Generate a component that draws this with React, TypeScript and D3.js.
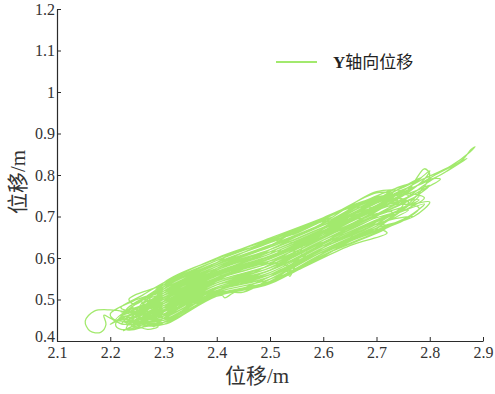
import { useEffect, useRef } from 'react'
import * as d3 from 'd3'

const xTicks = [2.1, 2.2, 2.3, 2.4, 2.5, 2.6, 2.7, 2.8, 2.9]
const yTicks = [0.4, 0.5, 0.6, 0.7, 0.8, 0.9, 1, 1.1, 1.2]
const axisTitle = '位移/m'
const legendLabel = '轴向位移'
const legendAxis = 'Y'

// trajectory (x, y displacement in m)
const trajectory: [number, number][] = [
  [2.23, 0.47], [2.2, 0.475], [2.17, 0.472], [2.153, 0.448], [2.162, 0.424], [2.182, 0.421], [2.192, 0.44], [2.188, 0.462], [2.2, 0.455], [2.23, 0.44],
  [2.3, 0.504], [2.4, 0.558], [2.5, 0.603], [2.6, 0.661], [2.67, 0.695], [2.6, 0.634], [2.5, 0.571], [2.4, 0.535], [2.3, 0.47], [2.24, 0.445],
  [2.3, 0.46], [2.4, 0.526], [2.5, 0.56], [2.6, 0.625], [2.7, 0.682], [2.75, 0.73], [2.7, 0.737], [2.6, 0.674], [2.5, 0.62], [2.4, 0.575], [2.3, 0.515], [2.26, 0.49],
  [2.3, 0.53], [2.4, 0.589], [2.5, 0.637], [2.6, 0.688], [2.63, 0.68], [2.6, 0.656], [2.5, 0.598], [2.4, 0.557], [2.3, 0.495], [2.22, 0.46],
  [2.3, 0.48], [2.4, 0.544], [2.5, 0.582], [2.6, 0.643], [2.7, 0.702], [2.78, 0.75], [2.7, 0.672], [2.6, 0.616], [2.5, 0.549], [2.4, 0.517], [2.3, 0.45], [2.23, 0.428],
  [2.3, 0.515], [2.4, 0.575], [2.5, 0.62], [2.6, 0.674], [2.71, 0.725], [2.6, 0.648], [2.5, 0.588], [2.4, 0.549], [2.31, 0.475],
  [2.4, 0.512], [2.5, 0.544], [2.57, 0.615], [2.5, 0.593], [2.4, 0.553], [2.3, 0.49], [2.22, 0.455], [2.2, 0.44],
  [2.3, 0.505], [2.4, 0.567], [2.5, 0.61], [2.6, 0.665], [2.7, 0.727], [2.78, 0.785], [2.84, 0.822], [2.875, 0.855], [2.885, 0.868], [2.878, 0.862], [2.86, 0.835], [2.81, 0.8], [2.75, 0.755], [2.7, 0.72], [2.6, 0.652], [2.5, 0.582], [2.4, 0.54], [2.3, 0.475], [2.25, 0.455],
  [2.3, 0.52], [2.4, 0.58], [2.5, 0.626], [2.6, 0.679], [2.7, 0.742], [2.76, 0.735], [2.7, 0.677], [2.6, 0.62], [2.5, 0.555], [2.4, 0.521], [2.3, 0.455], [2.24, 0.435],
  [2.3, 0.49], [2.4, 0.553], [2.5, 0.593], [2.6, 0.652], [2.7, 0.712], [2.76, 0.765], [2.79, 0.815], [2.8, 0.8], [2.76, 0.73], [2.7, 0.69], [2.6, 0.63], [2.5, 0.57], [2.4, 0.53], [2.32, 0.485],
  [2.4, 0.535], [2.5, 0.571], [2.56, 0.625], [2.5, 0.642], [2.4, 0.594], [2.3, 0.535], [2.245, 0.51], [2.235, 0.5], [2.245, 0.488], [2.26, 0.495], [2.25, 0.47],
  [2.3, 0.495], [2.4, 0.558], [2.5, 0.598], [2.6, 0.656], [2.7, 0.717], [2.76, 0.75], [2.7, 0.747], [2.6, 0.683], [2.5, 0.631], [2.4, 0.584], [2.3, 0.525], [2.27, 0.5],
  [2.3, 0.455], [2.36, 0.49], [2.41, 0.51], [2.415, 0.504], [2.43, 0.515], [2.5, 0.555], [2.6, 0.62], [2.7, 0.677], [2.76, 0.715], [2.7, 0.697], [2.6, 0.638], [2.5, 0.576], [2.4, 0.54], [2.3, 0.475], [2.24, 0.45],
  [2.3, 0.51], [2.4, 0.571], [2.5, 0.615], [2.6, 0.67], [2.7, 0.732], [2.75, 0.765], [2.77, 0.77], [2.7, 0.722], [2.6, 0.661], [2.5, 0.604], [2.4, 0.562], [2.3, 0.5], [2.22, 0.47],
  [2.3, 0.485], [2.4, 0.549], [2.5, 0.588], [2.54, 0.575], [2.5, 0.544], [2.45, 0.528], [2.4, 0.512], [2.3, 0.445], [2.25, 0.432], [2.22, 0.428], [2.21, 0.44],
  [2.3, 0.535], [2.4, 0.594], [2.5, 0.642], [2.6, 0.693], [2.65, 0.72], [2.69, 0.72], [2.6, 0.666], [2.5, 0.61], [2.4, 0.567], [2.3, 0.505], [2.26, 0.48],
  [2.3, 0.465], [2.4, 0.53], [2.5, 0.565], [2.6, 0.63], [2.7, 0.687], [2.76, 0.72], [2.79, 0.745], [2.75, 0.755], [2.7, 0.732], [2.6, 0.67], [2.5, 0.615], [2.4, 0.571], [2.3, 0.51], [2.28, 0.5],
  [2.32, 0.52], [2.4, 0.562], [2.5, 0.604], [2.6, 0.661], [2.64, 0.665], [2.6, 0.625], [2.55, 0.585], [2.537, 0.556], [2.53, 0.575], [2.5, 0.56], [2.4, 0.526], [2.3, 0.46], [2.26, 0.445],
  [2.3, 0.525], [2.4, 0.584], [2.5, 0.63], [2.6, 0.683], [2.7, 0.745], [2.74, 0.75], [2.7, 0.712], [2.6, 0.652], [2.5, 0.593], [2.4, 0.553], [2.3, 0.49], [2.23, 0.455],
  [2.3, 0.45], [2.4, 0.517], [2.45, 0.518], [2.5, 0.549], [2.6, 0.616], [2.7, 0.672], [2.77, 0.7], [2.8, 0.735], [2.7, 0.702], [2.6, 0.643], [2.5, 0.582], [2.4, 0.544], [2.3, 0.48], [2.29, 0.465],
  [2.4, 0.553], [2.5, 0.593], [2.6, 0.652], [2.7, 0.712], [2.72, 0.73], [2.6, 0.679], [2.5, 0.626], [2.4, 0.58], [2.3, 0.52], [2.25, 0.495], [2.23, 0.475],
  [2.3, 0.505], [2.4, 0.567], [2.5, 0.61], [2.6, 0.665], [2.7, 0.727], [2.76, 0.765], [2.82, 0.8], [2.85, 0.825], [2.87, 0.84], [2.84, 0.815], [2.8, 0.785], [2.76, 0.748], [2.7, 0.705], [2.6, 0.643], [2.5, 0.577], [2.4, 0.535], [2.3, 0.47], [2.25, 0.44],
  [2.3, 0.475], [2.4, 0.54], [2.5, 0.576], [2.6, 0.638], [2.66, 0.652], [2.6, 0.611], [2.5, 0.543], [2.4, 0.512], [2.35, 0.478], [2.3, 0.445], [2.28, 0.435],
  [2.3, 0.47], [2.35, 0.52], [2.4, 0.575], [2.5, 0.62], [2.6, 0.674], [2.7, 0.737], [2.785, 0.795], [2.76, 0.77], [2.7, 0.725], [2.6, 0.665], [2.5, 0.6], [2.4, 0.56], [2.3, 0.5], [2.24, 0.47],
  [2.3, 0.465], [2.4, 0.53], [2.5, 0.565], [2.6, 0.63], [2.7, 0.687], [2.73, 0.71], [2.7, 0.707], [2.6, 0.648], [2.5, 0.588], [2.4, 0.549], [2.3, 0.485], [2.21, 0.45],
  [2.3, 0.53], [2.4, 0.589], [2.43, 0.612], [2.5, 0.637], [2.6, 0.688], [2.62, 0.69], [2.6, 0.67], [2.5, 0.615], [2.4, 0.571], [2.3, 0.51], [2.27, 0.49],
  [2.3, 0.48], [2.4, 0.544], [2.5, 0.582], [2.6, 0.643], [2.7, 0.702], [2.77, 0.745], [2.8, 0.775], [2.77, 0.76], [2.7, 0.727], [2.6, 0.661], [2.5, 0.604], [2.4, 0.562], [2.3, 0.5], [2.22, 0.46],
  [2.3, 0.445], [2.4, 0.512], [2.5, 0.544], [2.6, 0.611], [2.7, 0.667], [2.76, 0.7], [2.79, 0.73], [2.7, 0.687], [2.6, 0.63], [2.5, 0.565], [2.4, 0.53], [2.3, 0.465], [2.23, 0.44],
  [2.3, 0.52], [2.4, 0.58], [2.5, 0.626], [2.6, 0.679], [2.7, 0.742], [2.75, 0.77], [2.78, 0.79], [2.8, 0.81], [2.79, 0.79], [2.75, 0.75], [2.7, 0.717], [2.6, 0.656], [2.5, 0.598], [2.4, 0.557], [2.3, 0.495], [2.26, 0.47],
  [2.3, 0.51], [2.4, 0.571], [2.5, 0.615], [2.56, 0.61], [2.5, 0.555], [2.4, 0.521], [2.3, 0.455], [2.25, 0.44], [2.225, 0.425],
  [2.3, 0.47], [2.4, 0.535], [2.5, 0.571], [2.6, 0.634], [2.7, 0.692], [2.75, 0.72], [2.78, 0.74], [2.7, 0.722], [2.6, 0.661], [2.5, 0.604], [2.4, 0.562], [2.3, 0.5], [2.27, 0.49],
  [2.3, 0.535], [2.4, 0.594], [2.5, 0.642], [2.6, 0.693], [2.7, 0.757], [2.73, 0.755], [2.7, 0.737], [2.6, 0.674], [2.5, 0.62], [2.4, 0.575], [2.3, 0.515], [2.24, 0.485],
  [2.3, 0.46], [2.4, 0.526], [2.5, 0.56], [2.6, 0.625], [2.7, 0.682], [2.72, 0.675], [2.6, 0.607], [2.5, 0.538], [2.4, 0.508], [2.3, 0.44], [2.27, 0.44],
  [2.3, 0.495], [2.4, 0.558], [2.5, 0.598], [2.6, 0.656], [2.7, 0.717], [2.74, 0.74], [2.7, 0.7], [2.6, 0.638], [2.5, 0.576], [2.4, 0.54], [2.3, 0.475], [2.22, 0.45],
  [2.3, 0.44], [2.4, 0.52], [2.5, 0.585], [2.6, 0.665], [2.7, 0.735], [2.75, 0.76], [2.7, 0.76], [2.6, 0.685], [2.5, 0.62], [2.4, 0.56], [2.3, 0.485], [2.25, 0.46],
  [2.3, 0.54], [2.4, 0.598], [2.5, 0.648], [2.6, 0.697], [2.66, 0.73], [2.7, 0.745], [2.65, 0.7], [2.6, 0.66], [2.5, 0.6], [2.4, 0.55], [2.3, 0.49], [2.24, 0.465],
  [2.3, 0.44], [2.35, 0.475], [2.4, 0.508], [2.5, 0.538], [2.6, 0.607], [2.7, 0.662], [2.75, 0.69], [2.77, 0.7], [2.72, 0.69], [2.6, 0.625], [2.5, 0.56], [2.4, 0.52], [2.3, 0.455], [2.25, 0.43],
  [2.27, 0.445], [2.29, 0.435], [2.27, 0.428], [2.25, 0.44], [2.28, 0.46], [2.35, 0.5], [2.4, 0.545], [2.5, 0.6], [2.6, 0.65], [2.7, 0.705], [2.78, 0.76], [2.82, 0.79], [2.8, 0.79], [2.74, 0.745], [2.65, 0.675], [2.55, 0.6], [2.45, 0.545], [2.35, 0.5], [2.28, 0.47],
  [2.3, 0.53], [2.4, 0.585], [2.5, 0.64], [2.55, 0.66], [2.6, 0.69], [2.62, 0.7], [2.55, 0.665], [2.5, 0.63], [2.4, 0.58], [2.3, 0.52], [2.25, 0.5], [2.2, 0.465], [2.21, 0.45],
  [2.3, 0.465], [2.4, 0.535], [2.5, 0.56], [2.6, 0.615], [2.7, 0.665], [2.75, 0.69], [2.78, 0.72], [2.74, 0.73], [2.7, 0.715], [2.6, 0.66], [2.5, 0.6], [2.4, 0.55], [2.3, 0.48], [2.23, 0.445],
  [2.3, 0.5], [2.4, 0.565], [2.5, 0.615], [2.6, 0.67], [2.7, 0.74], [2.74, 0.77], [2.76, 0.778], [2.72, 0.76], [2.6, 0.695], [2.5, 0.645], [2.4, 0.6], [2.3, 0.54], [2.26, 0.51], [2.22, 0.48],
  [2.28, 0.47], [2.35, 0.49], [2.42, 0.52], [2.5, 0.54], [2.58, 0.59], [2.65, 0.64], [2.7, 0.67], [2.72, 0.66], [2.65, 0.63], [2.55, 0.57], [2.49, 0.535], [2.45, 0.525], [2.4, 0.515], [2.35, 0.485], [2.3, 0.46],
  [2.35, 0.51], [2.45, 0.58], [2.55, 0.63], [2.65, 0.7], [2.7, 0.74], [2.72, 0.745], [2.68, 0.71], [2.6, 0.665], [2.5, 0.605], [2.4, 0.565], [2.3, 0.5], [2.24, 0.465], [2.22, 0.44],
]

export default function App() {
  const svgRef = useRef<SVGSVGElement>(null)

  useEffect(() => {
    if (!svgRef.current) return
    const svg = d3.select(svgRef.current)
    svg.selectAll('*').remove()

    const width = 495
    const height = 394
    const margin = { top: 9, right: 12, bottom: 53, left: 57 }
    const serif = "'Liberation Serif', 'Times New Roman', 'Noto Sans CJK SC', serif"
    const axisColor = '#2b2b2b'
    const green = '#a2e96d'

    svg.attr('width', width).attr('height', height)

    const x = d3.scaleLinear().domain([2.1, 2.9]).range([margin.left, width - margin.right])
    const y = d3.scaleLinear().domain([0.4, 1.2]).range([height - margin.bottom, margin.top])

    // trajectory
    const line = d3
      .line<[number, number]>()
      .x((d) => x(d[0]))
      .y((d) => y(d[1]))
      .curve(d3.curveCatmullRom.alpha(0.5))

    svg
      .append('path')
      .datum(trajectory)
      .attr('fill', 'none')
      .attr('stroke', green)
      .attr('stroke-width', 1.3)
      .attr('stroke-linejoin', 'round')
      .attr('d', line)

    // axes, ticks pointing inward
    const xAxis = svg
      .append('g')
      .attr('transform', `translate(0,${height - margin.bottom})`)
      .call(
        d3
          .axisBottom(x)
          .tickValues(xTicks)
          .tickSizeInner(-4)
          .tickSizeOuter(0)
          .tickPadding(6)
          .tickFormat((d) => String(d))
      )

    const yAxis = svg
      .append('g')
      .attr('transform', `translate(${margin.left},0)`)
      .call(
        d3
          .axisLeft(y)
          .tickValues(yTicks)
          .tickSizeInner(-4)
          .tickSizeOuter(0)
          .tickPadding(2)
          .tickFormat((d) => String(d))
      )

    for (const ax of [xAxis, yAxis]) {
      ax.attr('font-family', serif).attr('font-size', 16)
      ax.select('.domain').attr('stroke', axisColor).attr('stroke-width', 1.2)
      ax.selectAll('.tick line').attr('stroke', axisColor)
      ax.selectAll('.tick text').attr('fill', '#333')
    }

    // lowest y label sits a little higher so it clears the x labels
    yAxis
      .selectAll<SVGTextElement, number>('.tick text')
      .filter((d) => d === yTicks[0])
      .attr('y', -5)

    // axis titles
    svg
      .append('text')
      .attr('x', 257)
      .attr('y', 383)
      .attr('text-anchor', 'middle')
      .attr('font-family', serif)
      .attr('font-size', 21)
      .attr('fill', '#333')
      .text(axisTitle)

    svg
      .append('text')
      .attr('transform', 'translate(18,182) rotate(-90)')
      .attr('text-anchor', 'middle')
      .attr('dominant-baseline', 'central')
      .attr('font-family', serif)
      .attr('font-size', 21)
      .attr('fill', '#333')
      .text(axisTitle)

    // legend
    svg
      .append('line')
      .attr('x1', 276)
      .attr('x2', 317)
      .attr('y1', 62)
      .attr('y2', 62)
      .attr('stroke', green)
      .attr('stroke-width', 2)

    const lt = svg
      .append('text')
      .attr('x', 333)
      .attr('y', 62)
      .attr('dominant-baseline', 'central')
      .attr('font-family', serif)
      .attr('font-size', 17)
      .attr('fill', '#222')
    lt.append('tspan').attr('font-weight', 'bold').text(legendAxis)
    lt.append('tspan').text(legendLabel)
  }, [])

  return (
    <div style={{ position: 'absolute', left: 0, top: 0 }}>
      <svg ref={svgRef}></svg>
    </div>
  )
}
